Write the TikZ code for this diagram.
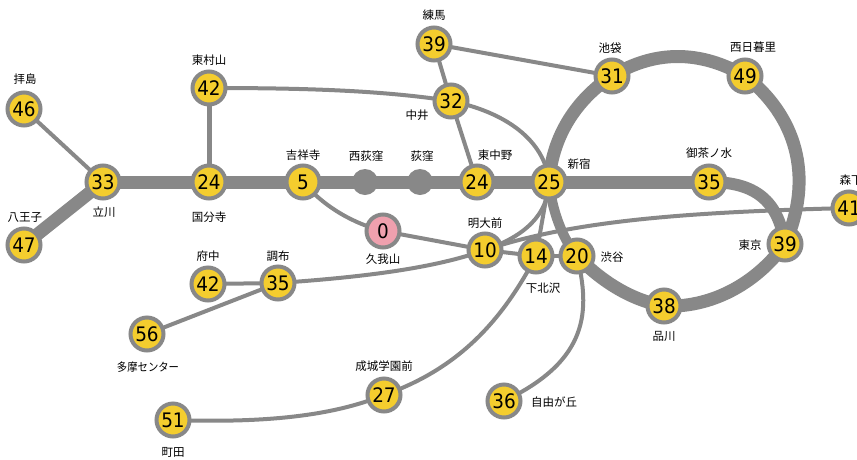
\documentclass[tikz,border=0pt]{standalone}
\usepackage{fontspec}
\setmainfont[FakeStretch=0.92]{DejaVu Sans}
\newfontfamily\jpfont{Noto Sans CJK JP}
\usetikzlibrary{backgrounds}
\definecolor{linegray}{HTML}{888888}
\definecolor{stayellow}{HTML}{F4CD2E}
\definecolor{stapink}{HTML}{EFA0AE}
\tikzset{
  x=1pt,y=-1pt,
  sta/.style={circle,draw=linegray,line width=4pt,fill=stayellow,minimum size=33pt,inner sep=0pt,outer sep=0pt,font=\fontsize{20}{20}\selectfont,text=black},
  origin/.style={sta,fill=stapink},
  dotsta/.style={circle,fill=linegray,minimum size=26pt,inner sep=0pt,outer sep=0pt},
  lab/.style={font=\jpfont\fontsize{11.5}{12}\selectfont,inner sep=0pt,text=black},
  thick line/.style={draw=linegray,line width=13pt},
  mid line/.style={draw=linegray,line width=5pt},
  thin line/.style={draw=linegray,line width=4pt},
}
\begin{document}
\begin{tikzpicture}
\useasboundingbox (0,0) rectangle (857,459);
% stations
\node[sta] (a46) at (24,109) {46};
\node[sta] (a47) at (24,245) {47};
\node[sta] (a33) at (103,182) {33};
\node[sta] (a42) at (209,88) {42};
\node[sta] (a24) at (209,182) {24};
\node[sta] (a5) at (303,182) {5};
\node[dotsta] (nishi) at (365,182) {};
\node[dotsta] (ogi) at (420,182) {};
\node[origin] (a0) at (383,231) {0};
\node[sta] (a39) at (434,44) {39};
\node[sta] (a32) at (451,101) {32};
\node[sta] (b24) at (477,182) {24};
\node[sta] (a25) at (549,182) {25};
\node[sta] (a31) at (612,76) {31};
\node[sta] (a49) at (745,76) {49};
\node[sta] (a35) at (709,182) {35};
\node[sta] (b39) at (785,244) {39};
\node[sta] (a41) at (849,208) {41};
\node[sta] (a10) at (485,250) {10};
\node[sta] (a14) at (536,256) {14};
\node[sta] (a20) at (577,256) {20};
\node[sta] (a38) at (664,306) {38};
\node[sta] (b42) at (208,284) {42};
\node[sta] (b35) at (278,283) {35};
\node[sta] (a56) at (147,334) {56};
\node[sta] (a27) at (384,395) {27};
\node[sta] (a51) at (173,420) {51};
\node[sta] (a36) at (504,401) {36};
% connectors
\begin{scope}[on background layer]
\fill[white] (0,0) rectangle (857,459);
\draw[thick line] (a33.center) -- (a24.center);
\draw[thick line] (a24.center) -- (a5.center);
\draw[thick line] (a5.center) -- (nishi.center);
\draw[thick line] (nishi.center) -- (ogi.center);
\draw[thick line] (ogi.center) -- (b24.center);
\draw[thick line] (b24.center) -- (a25.center);
\draw[thick line] (a25.center) -- (a35.center);
\draw[draw=linegray,line width=12pt] (a35.center) .. controls (755,182) and (778,200) .. (b39.center);
\draw[thick line] (a47.center) -- (a33.center);
\draw[thick line] (a25.center) .. controls (552,135) and (578,98) .. (a31.center);
\draw[thick line] (a31.center) .. controls (655,50) and (700,50) .. (a49.center);
\draw[thick line] (a49.center) .. controls (795,115) and (815,175) .. (b39.center);
\draw[thick line] (b39.center) .. controls (755,285) and (710,308) .. (a38.center);
\draw[thick line] (a38.center) .. controls (630,300) and (600,280) .. (a20.center);
\draw[draw=linegray,line width=10pt] (a20.center) .. controls (562,238) and (552,210) .. (a25.center);
\draw[thin line] (a46.center) -- (a33.center);
\draw[mid line] (a42.center) -- (a24.center);
\draw[thin line] (a42.center) .. controls (300,88) and (380,90) .. (a32.center);
\draw[thin line] (a39.center) -- (a31.center);
\draw[thin line] (a39.center) -- (a32.center);
\draw[thin line] (a32.center) -- (b24.center);
\draw[thin line] (a32.center) .. controls (505,112) and (545,140) .. (a25.center);
\draw[thin line] (a5.center) .. controls (325,208) and (355,224) .. (a0.center);
\draw[thin line] (a0.center) -- (a10.center);
\draw[thin line] (b35.center) .. controls (350,278) and (430,270) .. (a10.center);
\draw[thin line] (a10.center) .. controls (525,236) and (548,215) .. (a25.center);
\draw[thin line] (a14.center) -- (a25.center);
\draw[thin line] (a10.center) .. controls (575,220) and (690,212) .. (a41.center);
\draw[thin line] (a10.center) -- (a14.center);
\draw[thin line] (a14.center) -- (a20.center);
\draw[thin line] (b42.center) -- (b35.center);
\draw[thin line] (a56.center) -- (b35.center);
\draw[thin line] (a51.center) .. controls (260,423) and (330,417) .. (a27.center);
\draw[thin line] (a27.center) .. controls (455,370) and (500,325) .. (a14.center);
\draw[thin line] (a20.center) .. controls (590,310) and (590,360) .. (a36.center);
\end{scope}
% labels
\node[lab] (t1) at (25,79) {拝島};
\node[lab] (t2) at (25,218) {八王子};
\node[lab] (t3) at (104,212) {立川};
\node[lab] (t4) at (209,60) {東村山};
\node[lab] (t5) at (209,217) {国分寺};
\node[lab] (t6) at (303,155) {吉祥寺};
\node[lab] (t7) at (366,156) {西荻窪};
\node[lab] (t8) at (422,156) {荻窪};
\node[lab] (t9) at (417,115) {中井};
\node[lab] (t10) at (434,15) {練馬};
\node[lab] (t11) at (495,155) {東中野};
\node[lab] (t12) at (579,164) {新宿};
\node[lab] (t13) at (610,48) {池袋};
\node[lab] (t14) at (753,47) {西日暮里};
\node[lab] (t15) at (709,153) {御茶ノ水};
\node[lab] (t16) at (851,180) {森下};
\node[lab] (t17) at (383,259) {久我山};
\node[lab] (t18) at (485,223) {明大前};
\node[lab] (t19) at (208,256) {府中};
\node[lab] (t20) at (278,256) {調布};
\node[lab,xscale=0.9] (t21) at (148,367) {多摩センター};
\node[lab] (t22) at (384,366) {成城学園前};
\node[lab] (t23) at (173,452) {町田};
\node[lab] (t24) at (554,402) {自由が丘};
\node[lab] (t25) at (612,257) {渋谷};
\node[lab] (t26) at (543,288) {下北沢};
\node[lab] (t27) at (664,336) {品川};
\node[lab] (t28) at (750,245) {東京};
\end{tikzpicture}
\end{document}
